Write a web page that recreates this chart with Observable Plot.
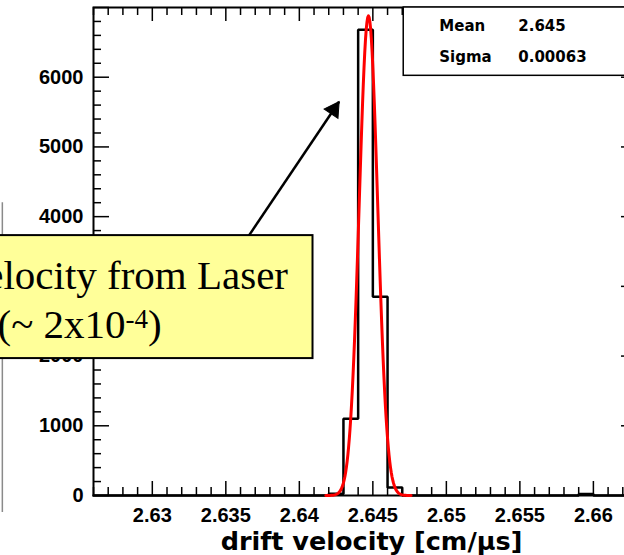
<!DOCTYPE html>
<html>
<head>
<meta charset="utf-8">
<script src="https://cdn.jsdelivr.net/npm/d3@7"></script>
<script src="https://cdn.jsdelivr.net/npm/@observablehq/plot@0.6"></script>
<style>
  html, body { margin: 0; padding: 0; background: #fff; overflow: hidden; }
  #chart svg { display: block; max-width: none !important; }
</style>
</head>
<body>
<div id="chart"></div>
<script>
// Drift velocity histogram: 0.001 cm/us bins starting at 2.626
const binLow = 2.626;
const binWidth = 0.001;
const counts = [
  0, 0, 0, 0, 0, 0, 0, 0, 0, 0,
  0, 0, 0, 0, 0, 0, 25, 1100, 6680, 2850,
  115, 0, 0, 0, 0, 0, 0, 0, 0, 0,
  0, 0, 0, 20, 0, 0, 0
];

// Gaussian fit parameters
const fitConstant = 6880;
const fitMean = 2.6447;
const fitSigma = 0.00063;
const fitRange = [2.6418, 2.6476];

// Axis ticks and labels
const xDomain = [2.626, 2.663];
const yDomain = [0, 7000];
const xMajor = [2.63, 2.635, 2.64, 2.645, 2.65, 2.655, 2.66];
const yMajor = [0, 1000, 2000, 3000, 4000, 5000, 6000, 7000];
const yLabelled = [0, 1000, 2000, 4000, 5000, 6000]; // 3000 sits under the callout box
const xTitle = "drift velocity [cm/\u03bcs]";

// Statistics box
const statNames = ["Mean", "Sigma"];
const statValues = [fitMean.toFixed(3), String(fitSigma)];
const statRowsY = [6738, 6294];
const statBox = {x1: 2.6471, x2: 2.68, y1: 6020, y2: 7000};

// Callout box with arrow pointing at the peak
const calloutLines = ["Drift velocity from Laser", "(~ 2x10-4)"];
const calloutLineX = [2.63923, 2.61947];
const calloutLineY = [2968, 2265];
const calloutAnchor = ["end", "start"];
const calloutBox = {x1: 2.6185, x2: 2.64093, y1: 1964, y2: 3728};
const arrowFrom = {x: 2.63657, y: 3728};
const arrowTo = {x: 2.64270, y: 5649};

// Edge of the neighbouring panel on the left
const neighbourEdge = {x: 2.6198, y1: -245, y2: 4200};

// Build the step outline of the histogram
const steps = [];
counts.forEach((c, i) => {
  const lo = +(binLow + i * binWidth).toFixed(3);
  const hi = +(binLow + (i + 1) * binWidth).toFixed(3);
  steps.push({x: lo, y: c}, {x: hi, y: c});
});
steps.unshift({x: binLow, y: 0});
steps.push({x: +(binLow + counts.length * binWidth).toFixed(3), y: 0});

// Sample the fitted Gaussian
const fitCurve = d3.range(fitRange[0], fitRange[1] + 1e-9, 0.00005).map(x => ({
  x, y: fitConstant * Math.exp(-0.5 * ((x - fitMean) / fitSigma) ** 2)
}));

// Minor ticks
const xMinor = d3.range(0, 38).map(i => +(xDomain[0] + i * 0.001).toFixed(3))
  .filter(v => !xMajor.some(m => Math.abs(m - v) < 1e-9));
const yMinor = d3.range(0, 7001, 200).filter(v => v % 1000 !== 0);

const W = 640, H = 555;
const mL = 93, mR = 3, mT = 7, mB = 60;
const fw = W - mL - mR, fh = H - mT - mB;

const tickStyle = {stroke: "black", strokeWidth: 1.5};
const calloutFont = {fontSize: 41, fontFamily: "Liberation Serif", fill: "black", lineAnchor: "bottom"};

const plot = Plot.plot({
  width: W,
  height: H,
  marginLeft: mL,
  marginRight: mR,
  marginTop: mT,
  marginBottom: mB,
  style: {background: "white", fontFamily: "Liberation Sans, Arial, sans-serif", overflow: "visible", maxWidth: "none"},
  x: {domain: xDomain},
  y: {domain: yDomain},
  marks: [
    Plot.ruleX([neighbourEdge], {x: "x", y1: "y1", y2: "y2", stroke: "#8a8a8a", strokeWidth: 1.5}),
    // inward ticks on all four sides
    Plot.tickY(yMajor, {y: d => d, insetRight: fw - 16, ...tickStyle}),
    Plot.tickY(yMinor, {y: d => d, insetRight: fw - 8, ...tickStyle}),
    Plot.tickY(yMajor, {y: d => d, insetLeft: fw - 16, ...tickStyle}),
    Plot.tickY(yMinor, {y: d => d, insetLeft: fw - 8, ...tickStyle}),
    Plot.tickX(xMajor, {x: d => d, insetTop: fh - 14, ...tickStyle}),
    Plot.tickX(xMinor, {x: d => d, insetTop: fh - 8, ...tickStyle}),
    Plot.tickX(xMajor, {x: d => d, insetBottom: fh - 14, ...tickStyle}),
    Plot.tickX(xMinor, {x: d => d, insetBottom: fh - 8, ...tickStyle}),
    Plot.frame({stroke: "black", strokeWidth: 2}),
    Plot.axisY({
      ticks: yLabelled, tickSize: 0, tickPadding: 10, label: null,
      tickFormat: d => String(d),
      fontSize: 20, fontWeight: "bold", fontFamily: "Liberation Sans", fill: "black"
    }),
    Plot.axisX({
      ticks: xMajor, tickSize: 0, tickPadding: 12, label: null,
      tickFormat: d => String(+d.toFixed(3)),
      fontSize: 20, fontWeight: "bold", fontFamily: "Liberation Sans", fill: "black"
    }),
    Plot.text([xTitle], {
      frameAnchor: "bottom", lineAnchor: "bottom", dy: 54, dx: 6,
      fontSize: 25.5, fontWeight: "bold", fontFamily: "DejaVu Sans", fill: "black"
    }),
    // histogram outline and Gaussian fit
    Plot.line(steps, {x: "x", y: "y", stroke: "black", strokeWidth: 2.5, strokeLinejoin: "miter"}),
    Plot.line(fitCurve, {x: "x", y: "y", stroke: "#ff0000", strokeWidth: 3, curve: "linear"}),
    // statistics box
    Plot.rect([statBox], {x1: "x1", x2: "x2", y1: "y1", y2: "y2", fill: "white", stroke: "black", strokeWidth: 1.5}),
    Plot.text(statNames, {
      x: () => 2.64952, y: (d, i) => statRowsY[i], text: d => d, textAnchor: "start",
      fontSize: 15, fontWeight: "bold", fontFamily: "DejaVu Sans", fill: "black"
    }),
    Plot.text(statValues, {
      x: () => 2.65489, y: (d, i) => statRowsY[i], text: d => d, textAnchor: "start",
      fontSize: 15, fontWeight: "bold", fontFamily: "DejaVu Sans", fill: "black"
    }),
    // callout arrow
    Plot.link([{a: arrowFrom, b: arrowTo}], {
      x1: d => d.a.x, y1: d => d.a.y, x2: d => d.b.x, y2: d => d.b.y,
      stroke: "black", strokeWidth: 2.5
    }),
    Plot.dot([arrowTo], {
      x: "x", y: "y", symbol: "triangle", r: 6.2, rotate: 34, dx: -5.3, dy: 8,
      fill: "black", stroke: "black", strokeWidth: 1
    }),
    // callout box
    Plot.rect([calloutBox], {x1: "x1", x2: "x2", y1: "y1", y2: "y2", fill: "#ffff99", stroke: "black", strokeWidth: 2}),
    Plot.text(calloutLines.slice(0, 1), {
      x: () => calloutLineX[0], y: () => calloutLineY[0], text: d => d,
      textAnchor: calloutAnchor[0], ...calloutFont
    }),
    Plot.text(calloutLines.slice(1), {
      x: () => calloutLineX[1], y: () => calloutLineY[1], text: d => d,
      textAnchor: calloutAnchor[1], ...calloutFont
    })
  ]
});

// The exponent in the callout is set as a superscript
const svg = d3.select(plot);
svg.selectAll('g[font-family="Liberation Serif"] text').each(function () {
  const t = d3.select(this);
  const m = this.textContent.match(/^(.*10)(-\d+)(\).*)$/);
  if (m) {
    t.text(null);
    t.append("tspan").text(m[1]);
    t.append("tspan").attr("font-size", 27).attr("dy", -10).text(m[2]);
    t.append("tspan").attr("dy", 10).text(m[3]);
  }
});

document.getElementById("chart").appendChild(plot);
</script>
</body>
</html>
